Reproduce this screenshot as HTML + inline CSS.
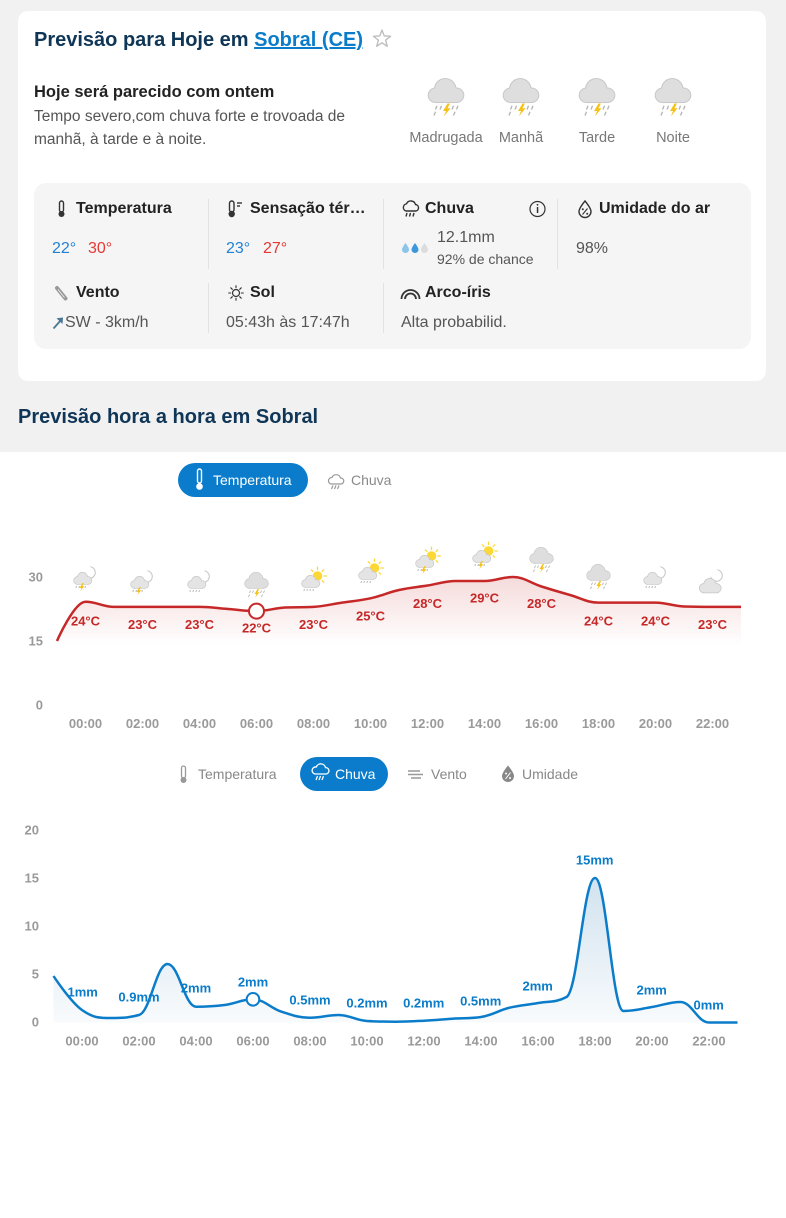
<!DOCTYPE html>
<html><head><meta charset="utf-8">
<style>
*{margin:0;padding:0;box-sizing:border-box}
html,body{width:786px;height:1218px;overflow:hidden;background:#fff}
body{position:relative;font-family:"Liberation Sans",Arial,sans-serif}
.t{position:absolute;white-space:nowrap;line-height:1}
.b{font-weight:bold}
.gray{position:absolute;left:0;top:0;width:786px;height:452px;background:#f1f1f1}
.card{position:absolute;left:18px;top:11px;width:748px;height:370px;background:#fff;border-radius:10px}
.box{position:absolute;left:34px;top:183px;width:717px;height:166px;background:#f5f5f5;border-radius:12px}
.div{position:absolute;width:1px;background:#e2e2e2}
.c{text-align:center;width:100px}
svg.ov{position:absolute;left:0;top:0}
</style></head><body>
<div class="gray"></div>
<div class="card"></div>
<div class="box"></div>
<div class="div" style="left:208px;top:199px;height:70px"></div>
<div class="div" style="left:383px;top:199px;height:70px"></div>
<div class="div" style="left:557px;top:199px;height:70px"></div>
<div class="div" style="left:208px;top:283px;height:50px"></div>
<div class="div" style="left:383px;top:283px;height:50px"></div>

<div class="t b" style="left:34px;top:30px;font-size:20px;color:#0f3656">Previsão para Hoje em <span style="color:#0a7cc9;text-decoration:underline">Sobral (CE)</span></div>

<div class="t b" style="left:34px;top:83.6px;font-size:16.5px;color:#222">Hoje será parecido com ontem</div>
<div class="t" style="left:34px;top:109px;font-size:15.5px;color:#555">Tempo severo,com chuva forte e trovoada de</div>
<div class="t" style="left:34px;top:131.5px;font-size:15.5px;color:#555">manhã, à tarde e à noite.</div>

<div class="t c" style="left:396px;top:131px;font-size:14.5px;color:#777">Madrugada</div>
<div class="t c" style="left:471px;top:131px;font-size:14.5px;color:#777">Manhã</div>
<div class="t c" style="left:547px;top:131px;font-size:14.5px;color:#777">Tarde</div>
<div class="t c" style="left:623px;top:131px;font-size:14.5px;color:#777">Noite</div>

<div class="t b" style="left:76px;top:201.2px;font-size:16px;color:#222">Temperatura</div>
<div class="t b" style="left:250px;top:201.2px;font-size:16px;color:#222">Sensação tér…</div>
<div class="t b" style="left:425px;top:201.2px;font-size:16px;color:#222">Chuva</div>
<div class="t b" style="left:599px;top:201.2px;font-size:16px;color:#222">Umidade do ar</div>

<div class="t" style="left:52px;top:240.7px;font-size:16px;color:#2381d4">22°</div>
<div class="t" style="left:88px;top:240.7px;font-size:16px;color:#e53935">30°</div>
<div class="t" style="left:226px;top:240.7px;font-size:16px;color:#2381d4">23°</div>
<div class="t" style="left:263px;top:240.7px;font-size:16px;color:#e53935">27°</div>
<div class="t" style="left:437px;top:230.2px;font-size:16px;color:#555">12.1mm</div>
<div class="t" style="left:437px;top:252.2px;font-size:14px;color:#555">92% de chance</div>
<div class="t" style="left:576px;top:240.7px;font-size:16px;color:#555">98%</div>

<div class="t b" style="left:76px;top:285.2px;font-size:16px;color:#222">Vento</div>
<div class="t b" style="left:250px;top:285.2px;font-size:16px;color:#222">Sol</div>
<div class="t b" style="left:425px;top:285.2px;font-size:16px;color:#222">Arco-íris</div>

<div class="t" style="left:65px;top:314.7px;font-size:16px;color:#555">SW - 3km/h</div>
<div class="t" style="left:226px;top:314.7px;font-size:16px;color:#555">05:43h às 17:47h</div>
<div class="t" style="left:401px;top:314.7px;font-size:16px;color:#555">Alta probabilid.</div>

<div class="t b" style="left:18px;top:407.2px;font-size:20px;color:#0f3656">Previsão hora a hora em Sobral</div>

<svg class="ov" width="786" height="1218" viewBox="0 0 786 1218" xmlns="http://www.w3.org/2000/svg" font-family="Liberation Sans, Arial, sans-serif">
<defs>
  <g id="clS">
    <circle cx="-8" cy="3.5" r="3.5"/><circle cx="-3" cy="0.5" r="4.8"/><circle cx="2.5" cy="3.5" r="3.5"/><rect x="-8" y="2" width="10.5" height="5"/>
  </g>
  <g id="cbS">
    <circle cx="-7" cy="-0.5" r="4.5"/><circle cx="-0.5" cy="-4.5" r="6.8"/><circle cx="7" cy="-0.5" r="4.5"/><rect x="-7" y="-1" width="14" height="5"/>
  </g>
  <g id="cl">
    <use href="#clS" fill="#c9c9c9" stroke="#c9c9c9" stroke-width="1.4"/>
    <use href="#clS" fill="#e4e4e4"/>
  </g>
  <g id="cb">
    <use href="#cbS" fill="#c9c9c9" stroke="#c9c9c9" stroke-width="1.4"/>
    <use href="#cbS" fill="#dedede"/>
  </g>
  <g id="moon">
    <circle cx="4" cy="-4.5" r="5.8" fill="#fff" stroke="#c6c6c6" stroke-width="1"/>
    <circle cx="1.2" cy="-7" r="5" fill="#fff"/>
  </g>
  <g id="sun">
    <circle cx="4" cy="-4" r="4.8" fill="#fdd835"/>
    <g stroke="#fdd835" stroke-width="1.3" stroke-linecap="round">
      <line x1="10.5" y1="-4" x2="12.8" y2="-4"/><line x1="8.6" y1="0.6" x2="10.2" y2="2.2"/>
      <line x1="4" y1="2.5" x2="4" y2="4.8"/><line x1="-0.6" y1="0.6" x2="-2.2" y2="2.2"/>
      <line x1="-2.5" y1="-4" x2="-4.8" y2="-4"/><line x1="-0.6" y1="-8.6" x2="-2.2" y2="-10.2"/>
      <line x1="4" y1="-10.5" x2="4" y2="-12.8"/><line x1="8.6" y1="-8.6" x2="10.2" y2="-10.2"/>
    </g>
  </g>
  <g id="dsm" stroke="#b8b8b8" stroke-width="1">
    <line x1="-9" y1="9" x2="-9.6" y2="11"/><line x1="-6" y1="9" x2="-6.6" y2="11"/><line x1="-3" y1="9" x2="-3.6" y2="11"/><line x1="0" y1="9" x2="-0.6" y2="11"/>
  </g>
  <path id="lsm" d="M-3,6 L-6,11 L-4,11 L-5.2,14 L-1.2,9.2 L-3.2,9.2 L-1.6,6 Z" fill="#f6c21a"/>
  <g id="i-storm">
    <use href="#cb"/>
    <g stroke="#b5b5b5" stroke-width="0.9">
      <line x1="-6" y1="6.5" x2="-7" y2="9"/><line x1="-3" y1="6.5" x2="-4" y2="9"/><line x1="5" y1="6.5" x2="4" y2="9"/><line x1="8" y1="6.5" x2="7" y2="9"/>
      <line x1="-7" y1="10.5" x2="-8" y2="13"/><line x1="6" y1="10.5" x2="5" y2="13"/>
    </g>
    <path d="M1,5 L-2,10 L0,10 L-1.4,13.6 L3,8.2 L1,8.2 L2.6,5 Z" fill="#f6c21a"/>
  </g>
  <g id="i-mstorm"><use href="#moon"/><use href="#cl"/><use href="#dsm"/><use href="#lsm"/></g>
  <g id="i-mrain"><use href="#moon"/><use href="#cl"/><use href="#dsm"/></g>
  <g id="i-srain"><use href="#sun"/><use href="#cl"/><use href="#dsm"/></g>
  <g id="i-sstorm"><use href="#sun"/><use href="#cl"/><use href="#dsm"/><use href="#lsm"/></g>
  <g id="i-moon"><use href="#moon"/><g transform="translate(1,4) scale(1.2)"><use href="#cl"/></g></g>
  <linearGradient id="gT" gradientUnits="userSpaceOnUse" x1="0" y1="577" x2="0" y2="645">
    <stop offset="0" stop-color="#c62828" stop-opacity="0.17"/><stop offset="1" stop-color="#c62828" stop-opacity="0"/>
  </linearGradient>
  <linearGradient id="gR" gradientUnits="userSpaceOnUse" x1="0" y1="878" x2="0" y2="1022">
    <stop offset="0" stop-color="#1a6fae" stop-opacity="0.2"/><stop offset="1" stop-color="#1a6fae" stop-opacity="0.03"/>
  </linearGradient>
</defs>

<!-- star -->
<polygon points="382,30 384.23,35.93 390.56,36.22 385.61,40.17 387.29,46.28 382,42.8 376.71,46.28 378.39,40.17 373.44,36.22 379.77,35.93" fill="none" stroke="#bbb" stroke-width="1.3" stroke-linejoin="round"/>

<!-- header icons -->
<use href="#i-storm" transform="translate(446,96) scale(1.5)"/>
<use href="#i-storm" transform="translate(521,96) scale(1.5)"/>
<use href="#i-storm" transform="translate(597,96) scale(1.5)"/>
<use href="#i-storm" transform="translate(673,96) scale(1.5)"/>

<!-- detail icons -->
<g fill="none" stroke="#333" stroke-width="1.4">
  <rect x="59.5" y="201" width="4" height="11" rx="2"/>
  <rect x="229.5" y="201" width="4.5" height="11" rx="2.2"/>
  <line x1="237" y1="203" x2="242" y2="203"/><line x1="237" y1="206" x2="240" y2="206"/>
  <path d="M406,211 H416 A3.3,3.3 0 0 0 415.5,204.5 A4.8,4.8 0 0 0 406.5,203.8 A3.7,3.7 0 0 0 406,211 Z"/>
  <line x1="407" y1="213" x2="406" y2="216.5"/><line x1="410.5" y1="213" x2="409.5" y2="216.5"/><line x1="414" y1="213" x2="413" y2="216.5"/>
  <circle cx="537.5" cy="209" r="7.5" stroke-width="1.2"/>
  <path d="M585,201 C585,201 579,208 579,211.5 A6,6 0 0 0 591,211.5 C591,208 585,201 585,201 Z"/>
  <line x1="582.5" y1="214.5" x2="587.5" y2="208.5" stroke-width="1.1"/>
  <circle cx="236" cy="293" r="3.5" stroke-width="1.2"/>
  <path d="M401.5,299 A9,9 0 0 1 419.5,299 M405,299 A5.5,5.5 0 0 1 416,299" stroke-width="1.8"/>
</g>
<g fill="#333">
  <circle cx="61.5" cy="214" r="3"/>
  <circle cx="231.7" cy="214" r="3.2"/>
  <rect x="536.8" y="207" width="1.5" height="6"/><circle cx="537.5" cy="204.8" r="0.9"/>
  <circle cx="582.8" cy="209.3" r="1"/><circle cx="587.2" cy="213.7" r="1"/>
</g>
<g stroke="#333" stroke-width="1.1" stroke-linecap="round">
  <line x1="241.3" y1="293" x2="243.3" y2="293"/><line x1="228.7" y1="293" x2="230.7" y2="293"/>
  <line x1="236" y1="287.7" x2="236" y2="285.7"/><line x1="236" y1="298.3" x2="236" y2="300.3"/>
  <line x1="239.7" y1="289.3" x2="241.2" y2="287.8"/><line x1="232.3" y1="289.3" x2="230.8" y2="287.8"/>
  <line x1="239.7" y1="296.7" x2="241.2" y2="298.2"/><line x1="232.3" y1="296.7" x2="230.8" y2="298.2"/>
</g>
<line x1="57" y1="288" x2="65.5" y2="298.5" stroke="#999" stroke-width="4" stroke-linecap="round"/>
<line x1="58" y1="289.5" x2="64.5" y2="297.5" stroke="#f5f5f5" stroke-width="0.8"/>
<line x1="53.5" y1="328.5" x2="61.5" y2="319.5" stroke="#4a7794" stroke-width="1.8"/>
<polygon points="56.5,318.3 63,317.5 62.5,324" fill="#4a7794"/>
<g>
  <path d="M405.5,243 C405.5,243 402,247.5 402,249.5 A3.5,3.5 0 0 0 409,249.5 C409,247.5 405.5,243 405.5,243 Z" fill="#8cc4ea"/>
  <path d="M415,243 C415,243 411.5,247.5 411.5,249.5 A3.5,3.5 0 0 0 418.5,249.5 C418.5,247.5 415,243 415,243 Z" fill="#3d97dc"/>
  <path d="M424.5,243 C424.5,243 421,247.5 421,249.5 A3.5,3.5 0 0 0 428,249.5 C428,247.5 424.5,243 424.5,243 Z" fill="#dcdcdc"/>
</g>

<!-- ===== Temperature chart ===== -->
<rect x="178" y="463" width="130" height="34" rx="17" fill="#0a7ccb"/>
<rect x="197.5" y="469" width="4" height="14" rx="2" fill="none" stroke="#fff" stroke-width="1.4"/>
<circle cx="199.5" cy="486.5" r="3.3" fill="#fff"/>
<text x="213" y="485" font-size="14" fill="#fff">Temperatura</text>
<g fill="none" stroke="#999" stroke-width="1.2">
  <path d="M331,484 H341 A3,3 0 0 0 340.5,478 A4.5,4.5 0 0 0 332,477.5 A3.3,3.3 0 0 0 331,484 Z"/>
  <line x1="333" y1="485.5" x2="331.5" y2="489"/><line x1="336" y1="485.5" x2="334.5" y2="489"/><line x1="339" y1="485.5" x2="337.5" y2="489"/>
</g>
<text x="351" y="485" font-size="14" fill="#8a8a8a">Chuva</text>

<path d="M57,641 C57,641 74.1,601.7 85.5,601.7 S102.6,606.9 114,606.9 S131.1,606.9 142.5,606.9 S159.6,606.9 171,606.9 S188.1,606.9 199.5,606.9 S216.6,608.16 228,609 S245.1,611.1 256.5,611.1 S273.6,608.1 285,607.5 S302.1,607.5 313.5,606.9 S330.6,604.32 342,602.6 S359.1,600.82 370.5,598.3 S387.6,592.56 399,590 S416.1,587.3 427.5,585.5 S444.6,581 456,581 S473.1,581 484.5,581 S501.6,577 513,577 S530.1,582.9 541.5,586.5 S558.6,591.78 570,595 S587.1,602.6 598.5,602.6 S615.6,602.6 627,602.6 S644.1,602.6 655.5,602.6 S672.6,606.1 684,606.5 S701.1,606.9 712.5,606.9 S741,606.9 741,606.9 L741,705 L57,705 Z" fill="url(#gT)"/>
<path d="M57,641 C57,641 74.1,601.7 85.5,601.7 S102.6,606.9 114,606.9 S131.1,606.9 142.5,606.9 S159.6,606.9 171,606.9 S188.1,606.9 199.5,606.9 S216.6,608.16 228,609 S245.1,611.1 256.5,611.1 S273.6,608.1 285,607.5 S302.1,607.5 313.5,606.9 S330.6,604.32 342,602.6 S359.1,600.82 370.5,598.3 S387.6,592.56 399,590 S416.1,587.3 427.5,585.5 S444.6,581 456,581 S473.1,581 484.5,581 S501.6,577 513,577 S530.1,582.9 541.5,586.5 S558.6,591.78 570,595 S587.1,602.6 598.5,602.6 S615.6,602.6 627,602.6 S644.1,602.6 655.5,602.6 S672.6,606.1 684,606.5 S701.1,606.9 712.5,606.9 S741,606.9 741,606.9" fill="none" stroke="#c62828" stroke-width="2.5"/>
<circle cx="256.5" cy="611.1" r="7.5" fill="#fff" stroke="#c62828" stroke-width="2"/>

<use href="#i-mstorm" transform="translate(85.5,577)"/>
<use href="#i-mstorm" transform="translate(142.5,581)"/>
<use href="#i-mrain" transform="translate(199.5,581)"/>
<use href="#i-storm" transform="translate(256.5,584)"/>
<use href="#i-srain" transform="translate(313.5,580)"/>
<use href="#i-srain" transform="translate(370.5,572)"/>
<use href="#i-sstorm" transform="translate(427.5,560)"/>
<use href="#i-sstorm" transform="translate(484.5,555)"/>
<use href="#i-storm" transform="translate(541.5,559)"/>
<use href="#i-storm" transform="translate(598.5,576)"/>
<use href="#i-mrain" transform="translate(655.5,577)"/>
<use href="#i-moon" transform="translate(712.5,580)"/>

<g font-size="13" font-weight="bold" fill="#c62828" text-anchor="middle">
  <text x="85.5" y="625.7">24°C</text>
  <text x="142.5" y="629.2">23°C</text>
  <text x="199.5" y="629.2">23°C</text>
  <text x="256.5" y="632.7">22°C</text>
  <text x="313.5" y="629.2">23°C</text>
  <text x="370.5" y="620.7">25°C</text>
  <text x="427.5" y="608.2">28°C</text>
  <text x="484.5" y="602.7">29°C</text>
  <text x="541.5" y="608.2">28°C</text>
  <text x="598.5" y="625.7">24°C</text>
  <text x="655.5" y="625.7">24°C</text>
  <text x="712.5" y="629.2">23°C</text>
</g>
<g font-size="13" font-weight="bold" fill="#9a9a9a" text-anchor="end">
  <text x="43" y="581.4">30</text>
  <text x="43" y="645.7">15</text>
  <text x="43" y="709.7">0</text>
</g>
<g font-size="13" font-weight="bold" fill="#9a9a9a" text-anchor="middle">
  <text x="85.5" y="728">00:00</text>
  <text x="142.5" y="728">02:00</text>
  <text x="199.5" y="728">04:00</text>
  <text x="256.5" y="728">06:00</text>
  <text x="313.5" y="728">08:00</text>
  <text x="370.5" y="728">10:00</text>
  <text x="427.5" y="728">12:00</text>
  <text x="484.5" y="728">14:00</text>
  <text x="541.5" y="728">16:00</text>
  <text x="598.5" y="728">18:00</text>
  <text x="655.5" y="728">20:00</text>
  <text x="712.5" y="728">22:00</text>
</g>

<!-- ===== Rain chart ===== -->
<rect x="181.5" y="766" width="4" height="12" rx="2" fill="none" stroke="#999" stroke-width="1.3"/>
<circle cx="183.5" cy="780" r="3" fill="#999"/>
<text x="198" y="779" font-size="14" fill="#888">Temperatura</text>
<rect x="300" y="757" width="88" height="34" rx="17" fill="#0a7ccb"/>
<g fill="none" stroke="#fff" stroke-width="1.3">
  <path d="M315,774 H326 A3.2,3.2 0 0 0 325.5,767.6 A4.8,4.8 0 0 0 316.3,767 A3.5,3.5 0 0 0 315,774 Z"/>
  <line x1="317.5" y1="776" x2="316" y2="780"/><line x1="320.5" y1="776" x2="319" y2="780"/><line x1="323.5" y1="776" x2="322" y2="780"/>
</g>
<text x="335" y="779" font-size="14" fill="#fff">Chuva</text>
<g stroke="#999" stroke-width="1.5">
  <line x1="408" y1="771" x2="420" y2="771"/><line x1="408" y1="774.5" x2="423" y2="774.5"/><line x1="411" y1="778" x2="421" y2="778"/>
</g>
<text x="431" y="779" font-size="14" fill="#888">Vento</text>
<path d="M508,765.5 C508,765.5 502,772.5 502,776 A6,6 0 0 0 514,776 C514,772.5 508,765.5 508,765.5 Z" fill="#888"/>
<g fill="#fff"><circle cx="506" cy="773.5" r="1"/><circle cx="510" cy="778" r="1"/></g>
<line x1="505.5" y1="779" x2="510.5" y2="772.5" stroke="#fff" stroke-width="1"/>
<text x="522" y="779" font-size="14" fill="#888">Umidade</text>

<path d="M53.5,976 C53.5,976 70.6,1002 82,1010 S99.1,1018 110.5,1018 S127.6,1018 139,1015 S156.1,964 167.5,964 S184.6,1006.7 196,1006.7 S213.1,1006.48 224.5,1005 S241.6,999.3 253,999.3 S270.1,1008.02 281.5,1011.7 S298.6,1017.7 310,1017.7 S327.1,1015 338.5,1015 S355.6,1020.3 367,1021 S384.1,1021.7 395.5,1021.7 S412.6,1021.3 424,1020.7 S441.1,1019.44 452.5,1018.7 S469.6,1018.7 481,1017 S498.1,1010.5 509.5,1007.7 S526.6,1005.14 538,1003 S555.1,1003 566.5,997 S583.6,878 595,878 S612.1,1011 623.5,1011 S640.6,1008.8 652,1007 S669.1,1002 680.5,1002 S697.6,1022.5 709,1022.5 S737.5,1022.5 737.5,1022.5 L737.5,1022.5 L53.5,1022.5 Z" fill="url(#gR)"/>
<path d="M53.5,976 C53.5,976 70.6,1002 82,1010 S99.1,1018 110.5,1018 S127.6,1018 139,1015 S156.1,964 167.5,964 S184.6,1006.7 196,1006.7 S213.1,1006.48 224.5,1005 S241.6,999.3 253,999.3 S270.1,1008.02 281.5,1011.7 S298.6,1017.7 310,1017.7 S327.1,1015 338.5,1015 S355.6,1020.3 367,1021 S384.1,1021.7 395.5,1021.7 S412.6,1021.3 424,1020.7 S441.1,1019.44 452.5,1018.7 S469.6,1018.7 481,1017 S498.1,1010.5 509.5,1007.7 S526.6,1005.14 538,1003 S555.1,1003 566.5,997 S583.6,878 595,878 S612.1,1011 623.5,1011 S640.6,1008.8 652,1007 S669.1,1002 680.5,1002 S697.6,1022.5 709,1022.5 S737.5,1022.5 737.5,1022.5" fill="none" stroke="#0a7cc9" stroke-width="2.5"/>
<circle cx="253" cy="999.3" r="6.3" fill="#fff" stroke="#0a7cc9" stroke-width="2"/>

<g font-size="13" font-weight="bold" fill="#0a7cc9" text-anchor="middle">
  <text x="82.7" y="996.4">1mm</text>
  <text x="139" y="1001.7">0.9mm</text>
  <text x="196" y="992.7">2mm</text>
  <text x="253" y="986.4">2mm</text>
  <text x="310" y="1004.7">0.5mm</text>
  <text x="367" y="1007.4">0.2mm</text>
  <text x="423.7" y="1007.4">0.2mm</text>
  <text x="480.7" y="1005.4">0.5mm</text>
  <text x="537.7" y="990.7">2mm</text>
  <text x="594.7" y="864.7">15mm</text>
  <text x="651.7" y="994.7">2mm</text>
  <text x="708.7" y="1009.7">0mm</text>
</g>
<g font-size="13" font-weight="bold" fill="#9a9a9a" text-anchor="end">
  <text x="39" y="834.7">20</text>
  <text x="39" y="882.7">15</text>
  <text x="39" y="930.7">10</text>
  <text x="39" y="978.7">5</text>
  <text x="39" y="1026.7">0</text>
</g>
<g font-size="13" font-weight="bold" fill="#9a9a9a" text-anchor="middle">
  <text x="82" y="1045.7">00:00</text>
  <text x="139" y="1045.7">02:00</text>
  <text x="196" y="1045.7">04:00</text>
  <text x="253" y="1045.7">06:00</text>
  <text x="310" y="1045.7">08:00</text>
  <text x="367" y="1045.7">10:00</text>
  <text x="424" y="1045.7">12:00</text>
  <text x="481" y="1045.7">14:00</text>
  <text x="538" y="1045.7">16:00</text>
  <text x="595" y="1045.7">18:00</text>
  <text x="652" y="1045.7">20:00</text>
  <text x="709" y="1045.7">22:00</text>
</g>
</svg>
</body></html>
